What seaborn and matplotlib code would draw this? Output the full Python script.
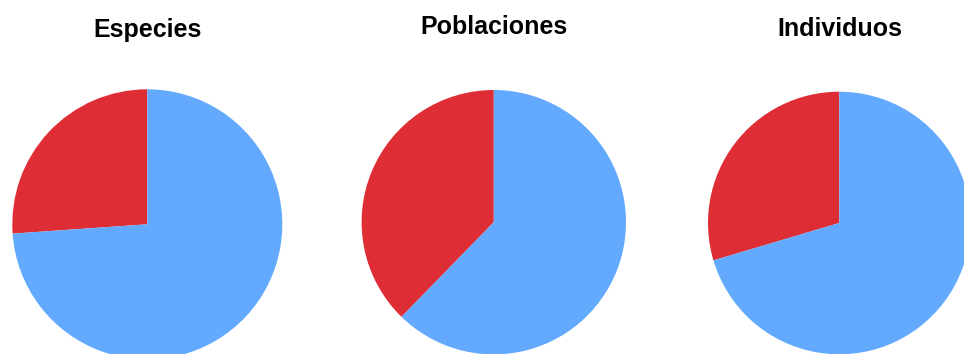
import matplotlib
matplotlib.use("Agg")
import matplotlib.pyplot as plt
import seaborn as sns

sns.set_theme(style="white")
plt.rcParams["font.family"] = ["Liberation Sans", "DejaVu Sans"]

# Share of each group (red first, then blue)
titles = ["Especies", "Poblaciones", "Individuos"]
red_share = [26.1, 37.7, 29.6]
blue_share = [73.9, 62.3, 70.4]
colors = ["#DE2D35", "#63AAFE"]

W, H = 964, 354
fig = plt.figure(figsize=(W / 100, H / 100), dpi=100)
ax = fig.add_axes([0, 0, 1, 1])

# Pie placement in pixel units (y measured from the bottom)
centers = [(147.3, H - 224.3), (493.8, H - 222.2), (839.3, H - 223.0)]
radii = [135.0, 132.2, 131.3]
title_pos = [(148, H - 36.5), (494, H - 34.0), (840, H - 36.0)]

for title, r_val, b_val, c, rad, tp in zip(titles, red_share, blue_share,
                                           centers, radii, title_pos):
    ax.pie([r_val, b_val], colors=colors, startangle=90, counterclock=True,
           center=c, radius=rad, wedgeprops=dict(linewidth=0))
    ax.text(tp[0], tp[1], title, ha="center", va="baseline",
            fontsize=18, fontweight="bold", color="black")

ax.set_xlim(0, W)
ax.set_ylim(0, H)
ax.set_aspect("equal")
ax.axis("off")

fig.savefig("out.png", dpi=100)
